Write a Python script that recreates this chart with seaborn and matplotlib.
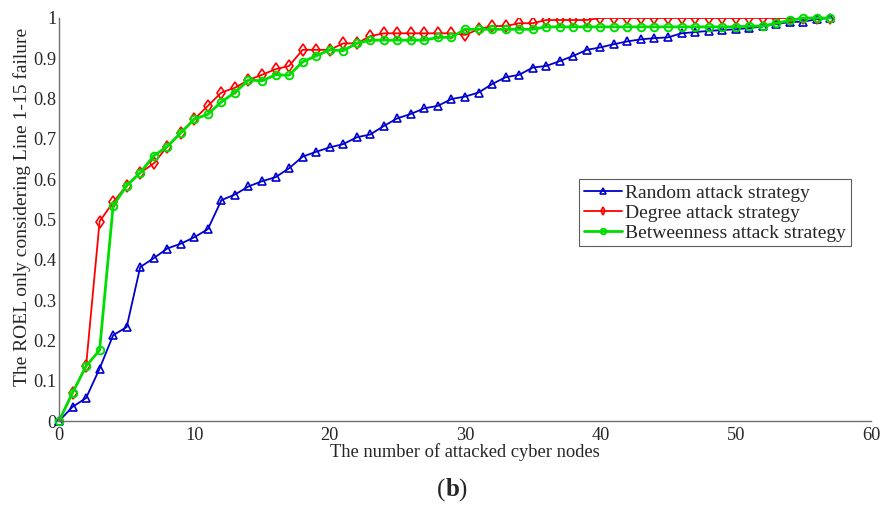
import numpy as np
import pandas as pd
import matplotlib
matplotlib.use("Agg")
import matplotlib.pyplot as plt
import seaborn as sns

attacked_nodes = list(range(58))

random_strategy = [0.0, 0.035, 0.057, 0.13, 0.213, 0.233, 0.382, 0.404, 0.428, 0.44,
                   0.456, 0.476, 0.548, 0.562, 0.582, 0.595, 0.605, 0.627, 0.656, 0.668,
                   0.679, 0.687, 0.704, 0.711, 0.732, 0.751, 0.762, 0.776, 0.782, 0.799,
                   0.805, 0.815, 0.836, 0.853, 0.859, 0.877, 0.881, 0.893, 0.906, 0.921,
                   0.927, 0.935, 0.942, 0.947, 0.95, 0.952, 0.962, 0.965, 0.968, 0.97,
                   0.972, 0.975, 0.979, 0.985, 0.99, 0.991, 0.997, 1.0]

degree_strategy = [0.0, 0.07, 0.136, 0.495, 0.543, 0.584, 0.616, 0.639, 0.681, 0.715,
                   0.749, 0.782, 0.815, 0.827, 0.846, 0.859, 0.873, 0.881, 0.921, 0.921,
                   0.921, 0.937, 0.937, 0.955, 0.962, 0.962, 0.962, 0.962, 0.962, 0.962,
                   0.958, 0.972, 0.98, 0.98, 0.987, 0.987, 0.995, 0.995, 0.995, 0.995,
                   1.0, 1.0, 1.0, 1.0, 1.0, 1.0, 1.0, 1.0, 1.0, 1.0,
                   1.0, 1.0, 1.0, 1.0, 1.0, 1.0, 1.0, 1.0]

betweenness_strategy = [0.0, 0.07, 0.136, 0.176, 0.534, 0.584, 0.616, 0.658, 0.681, 0.715,
                        0.749, 0.761, 0.792, 0.815, 0.846, 0.844, 0.859, 0.858, 0.891, 0.906,
                        0.921, 0.919, 0.937, 0.945, 0.945, 0.945, 0.945, 0.945, 0.952, 0.952,
                        0.972, 0.972, 0.972, 0.972, 0.972, 0.972, 0.978, 0.978, 0.978, 0.978,
                        0.978, 0.978, 0.978, 0.978, 0.978, 0.978, 0.978, 0.978, 0.978, 0.978,
                        0.978, 0.98, 0.98, 0.987, 0.994, 1.0, 1.0, 1.0]

series_names = ["Random attack strategy", "Degree attack strategy", "Betweenness attack strategy"]
x_ticks = [0, 10, 20, 30, 40, 50, 60]
y_ticks = [0, 0.1, 0.2, 0.3, 0.4, 0.5, 0.6, 0.7, 0.8, 0.9, 1.0]
y_tick_labels = ["0", "0.1", "0.2", "0.3", "0.4", "0.5", "0.6", "0.7", "0.8", "0.9", "1"]

sns.set_style("white")
plt.rcParams["font.family"] = ["Liberation Serif", "DejaVu Serif"]

fig = plt.figure(figsize=(8.85, 5.13), dpi=100)
ax = fig.add_axes([59 / 885, 1 - 421 / 513, 812 / 885, 403 / 513])

styles = [
    dict(color="#0000cc", marker="^", markersize=6, linewidth=1.3, mew=1.2),
    dict(color="#ff0000", marker="d", markersize=6, linewidth=1.3, mew=1.2),
    dict(color="#00dd00", marker="o", markersize=5.5, linewidth=2.0, mew=1.4),
]
values = [random_strategy, degree_strategy, betweenness_strategy]

for name, vals, st in zip(series_names, values, styles):
    df = pd.DataFrame({"x": attacked_nodes, "y": vals})
    sns.lineplot(data=df, x="x", y="y", ax=ax, label=name, color=st["color"],
                 marker=st["marker"], markersize=st["markersize"], linewidth=st["linewidth"],
                 markerfacecolor="none", markeredgecolor=st["color"], markeredgewidth=st["mew"],
                 clip_on=False if name != "Degree attack strategy" else True)

ax.set_xlim(0, 60)
ax.set_ylim(0, 1)
ax.set_xticks(x_ticks)
ax.set_xticklabels([str(t) for t in x_ticks])
ax.set_yticks(y_ticks)
ax.set_yticklabels(y_tick_labels)
ax.tick_params(direction="in", length=5, width=0.8, color="#707070", labelsize=13.2, pad=2)
ax.tick_params(axis="x", pad=4)
for side in ["top", "right"]:
    ax.spines[side].set_visible(False)
for side in ["left", "bottom"]:
    ax.spines[side].set_color("#707070")
    ax.spines[side].set_linewidth(1.0)

ax.set_xlabel("The number of attacked cyber nodes", fontsize=13.3, labelpad=0)
ax.set_ylabel("The ROEL only considering Line 1-15 failure", fontsize=14)
ax.yaxis.set_label_coords(-0.034, 0.531)

leg = ax.legend(loc="upper left", bbox_to_anchor=(0.64, 0.6), fontsize=14, frameon=True,
                fancybox=False, edgecolor="#333333", handlelength=2.0, handletextpad=0.15,
                borderpad=0.25, labelspacing=0.12, borderaxespad=0)
leg.get_frame().set_linewidth(0.8)
for h in leg.get_lines():
    h.set_markersize(4)

fig.text(0.5035, 1 - 490 / 513, "(", ha="right", va="center", fontsize=18)
fig.text(0.5035, 1 - 490 / 513, "b", ha="left", va="center", fontsize=18, fontweight="bold")
fig.text(0.5035 + 0.0142, 1 - 490 / 513, ")", ha="left", va="center", fontsize=18)

fig.savefig("out.png", dpi=100)
